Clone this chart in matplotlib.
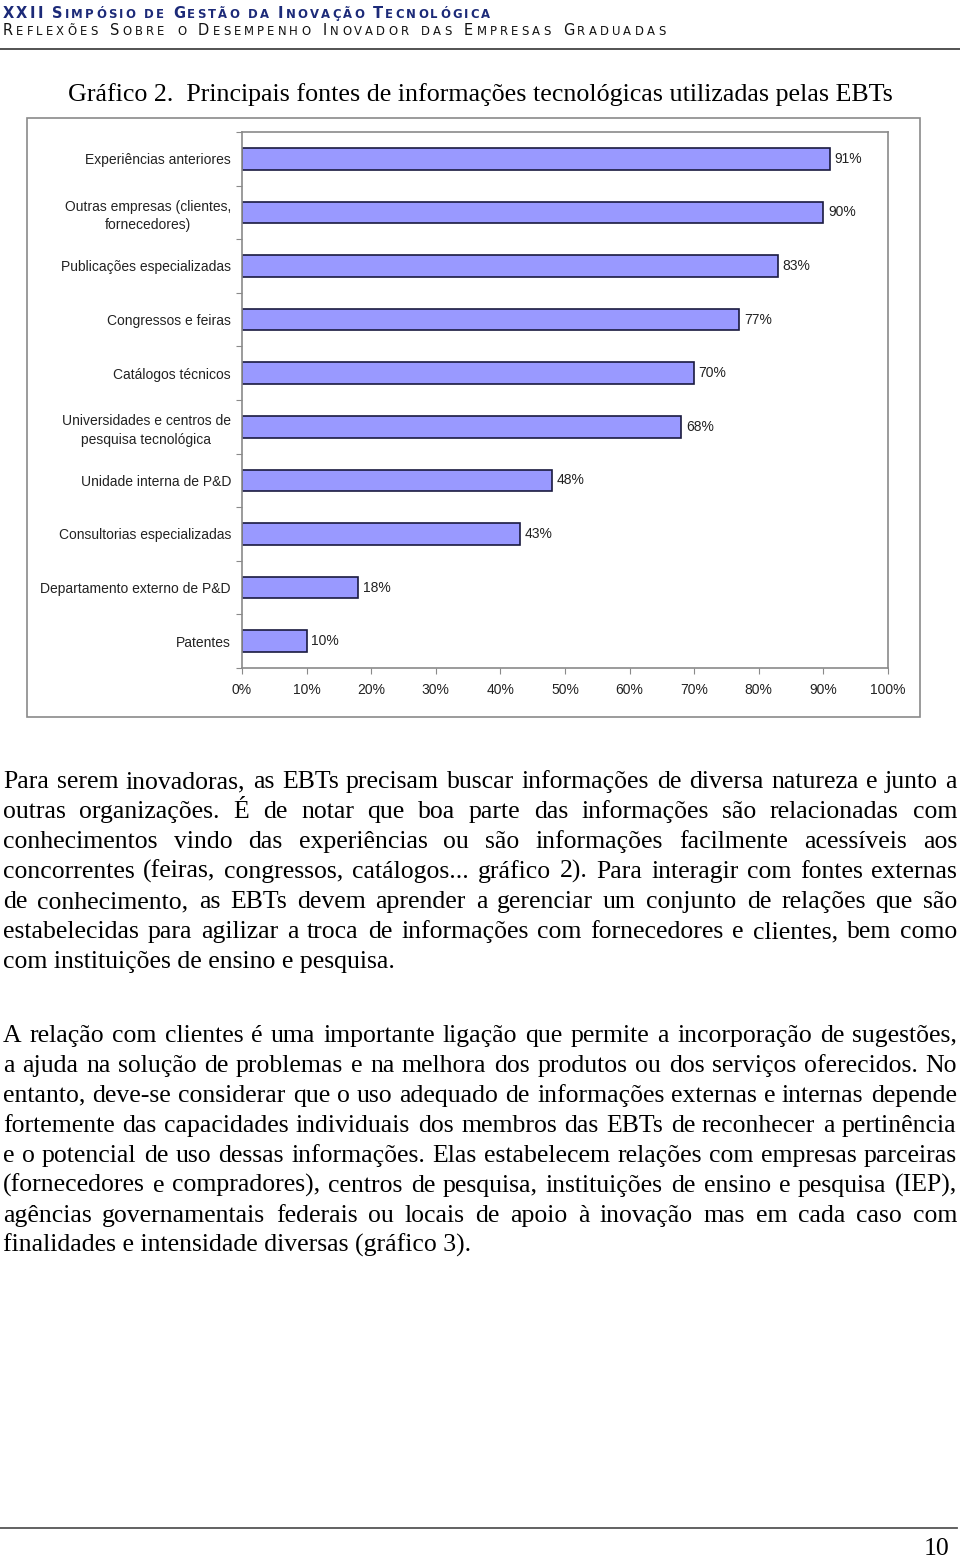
import numpy as np
import matplotlib
matplotlib.use('Agg')
import matplotlib.pyplot as plt
from matplotlib.patches import Rectangle
from matplotlib.lines import Line2D

# Reference page: 960 x 1558 px
W, H = 960, 1558
DPI = 100

categories = ['Experiências anteriores', 'Outras empresas (clientes,\nfornecedores)',
              'Publicações especializadas', 'Congressos e feiras', 'Catálogos técnicos',
              'Universidades e centros de\npesquisa tecnológica', 'Unidade interna de P&D',
              'Consultorias especializadas', 'Departamento externo de P&D', 'Patentes']
values = [91, 90, 83, 77, 70, 68, 48, 43, 18, 10]
xticks = [0, 10, 20, 30, 40, 50, 60, 70, 80, 90, 100]

header1 = 'XXII Simpósio de Gestão da Inovação Tecnológica'
header2 = 'Reflexões Sobre o Desempenho Inovador das Empresas Graduadas'
title = 'Gráfico 2.  Principais fontes de informações tecnológicas utilizadas pelas EBTs'

para1 = ['Para serem inovadoras, as EBTs precisam buscar informações de diversa natureza e junto a',
         'outras organizações. É de notar que boa parte das informações são relacionadas com',
         'conhecimentos vindo das experiências ou são informações facilmente acessíveis aos',
         'concorrentes (feiras, congressos, catálogos... gráfico 2). Para interagir com fontes externas',
         'de conhecimento, as EBTs devem aprender a gerenciar um conjunto de relações que são',
         'estabelecidas para agilizar a troca de informações com fornecedores e clientes, bem como',
         'com instituições de ensino e pesquisa.']
para2 = ['A relação com clientes é uma importante ligação que permite a incorporação de sugestões,',
         'a ajuda na solução de problemas e na melhora dos produtos ou dos serviços oferecidos. No',
         'entanto, deve-se considerar que o uso adequado de informações externas e internas depende',
         'fortemente das capacidades individuais dos membros das EBTs de reconhecer a pertinência',
         'e o potencial de uso dessas informações. Elas estabelecem relações com empresas parceiras',
         '(fornecedores e compradores), centros de pesquisa, instituições de ensino e pesquisa (IEP),',
         'agências governamentais federais ou locais de apoio à inovação mas em cada caso com',
         'finalidades e intensidade diversas (gráfico 3).']

fig = plt.figure(figsize=(W / DPI, H / DPI), dpi=DPI)
renderer = fig.canvas.get_renderer()


def fy(y):
    # page pixel (from top) -> figure pixel (from bottom)
    return H - y


def text_width(s, **kw):
    t = fig.text(0, 0, s, **kw)
    w = t.get_window_extent(renderer).width
    t.remove()
    return w


def small_caps(s, x0, x1, yb, big, small, **kw):
    # fake small caps, letter-spaced to fill x0..x1
    pieces = []
    for word in s.split(' '):
        pieces.append([(ch.upper(), big if ch.isupper() else small) for ch in word])
    widths = [[text_width(c, fontsize=sz, **kw) for c, sz in wd] for wd in pieces]
    n_gaps = sum(len(wd) - 1 for wd in pieces)
    n_words = len(pieces) - 1
    total = sum(sum(w) for w in widths)
    # word gap = 4 letter gaps
    ls = (x1 - x0 - total) / (n_gaps + 4 * n_words)
    x = x0
    for wd, ws in zip(pieces, widths):
        for (c, sz), w in zip(wd, ws):
            fig.text(round(x), fy(yb), c, fontsize=sz, ha='left', va='baseline',
                     transform=None, **kw)
            x += w + ls
        x += 3 * ls


def justified(lines, x0, x1, y0, step, **kw):
    for i, line in enumerate(lines):
        yb = fy(y0 + i * step)
        if i == len(lines) - 1:
            fig.text(x0, yb, line, ha='left', va='baseline', transform=None, **kw)
            continue
        words = line.split(' ')
        ws = [text_width(w, **kw) for w in words]
        gap = (x1 - x0 - sum(ws)) / (len(words) - 1)
        x = x0
        for w, wd in zip(words, ws):
            fig.text(round(x), yb, w, ha='left', va='baseline', transform=None, **kw)
            x += wd + gap


# header
small_caps(header1, 3, 490, 18, 10.5, 8.4, family='DejaVu Sans', fontweight='bold',
           color='#1c2a78')
small_caps(header2, 3, 665, 35, 10.5, 8.4, family='DejaVu Sans', color='#111111')
fig.add_artist(Line2D([0, 1], [fy(49) / H] * 2, color='#444444', lw=1.3))

# chart title
fig.text(68, fy(95), title, ha='left', va='center', fontsize=18.7,
         family='Liberation Serif', transform=None)

# outer chart frame
fig.add_artist(Rectangle((27 / W, fy(717) / H), (920 - 27) / W, (717 - 118) / H,
                         fill=False, edgecolor='#8a8a8a', lw=1.2))

ax = fig.add_axes([242 / W, fy(668) / H, (888 - 242) / W, (668 - 132) / H])
ypos = np.arange(len(categories))
ax.barh(ypos, values, height=0.4, color='#9999ff', edgecolor='#1a1a40', lw=1.2)
for y, v in zip(ypos, values):
    ax.text(v + 0.7, y, f'{v}%', va='center', ha='left', fontsize=10,
            family='Liberation Sans', color='#222222')

ax.set_xlim(0, 100)
ax.set_ylim(len(categories) - 0.5, -0.5)
ax.set_xticks(xticks, [f'{v}%' for v in xticks])
ax.set_yticks(np.arange(-0.5, len(categories)), [])
ax.set_yticks(ypos, categories, minor=True)
for t in ax.get_yticklabels(minor=True):
    t.set_multialignment('center')
    t.set_family('Liberation Sans')
    t.set_linespacing(1.4)
for t in ax.get_xticklabels():
    t.set_family('Liberation Sans')
ax.tick_params(axis='y', which='major', length=4, color='#8a8a8a')
ax.tick_params(axis='y', which='minor', length=0, pad=8, labelsize=10, labelcolor='#222222')
ax.tick_params(axis='x', length=4, color='#8a8a8a', pad=7, labelsize=10, labelcolor='#222222')
for s in ax.spines.values():
    s.set_color('#8a8a8a')
    s.set_linewidth(1.2)

# body text
kw = dict(fontsize=18.5, family='Liberation Serif', color='black')
justified(para1, 3, 957, 788, 30, **kw)
justified(para2, 3, 957, 1042, 30, **kw)

# footer
fig.add_artist(Line2D([0, 957 / W], [fy(1528) / H] * 2, color='#555555', lw=1.3))
fig.text(949, fy(1555), '10', ha='right', va='baseline', fontsize=18.5,
         family='Liberation Serif', transform=None)

fig.savefig('out.png', dpi=DPI)
